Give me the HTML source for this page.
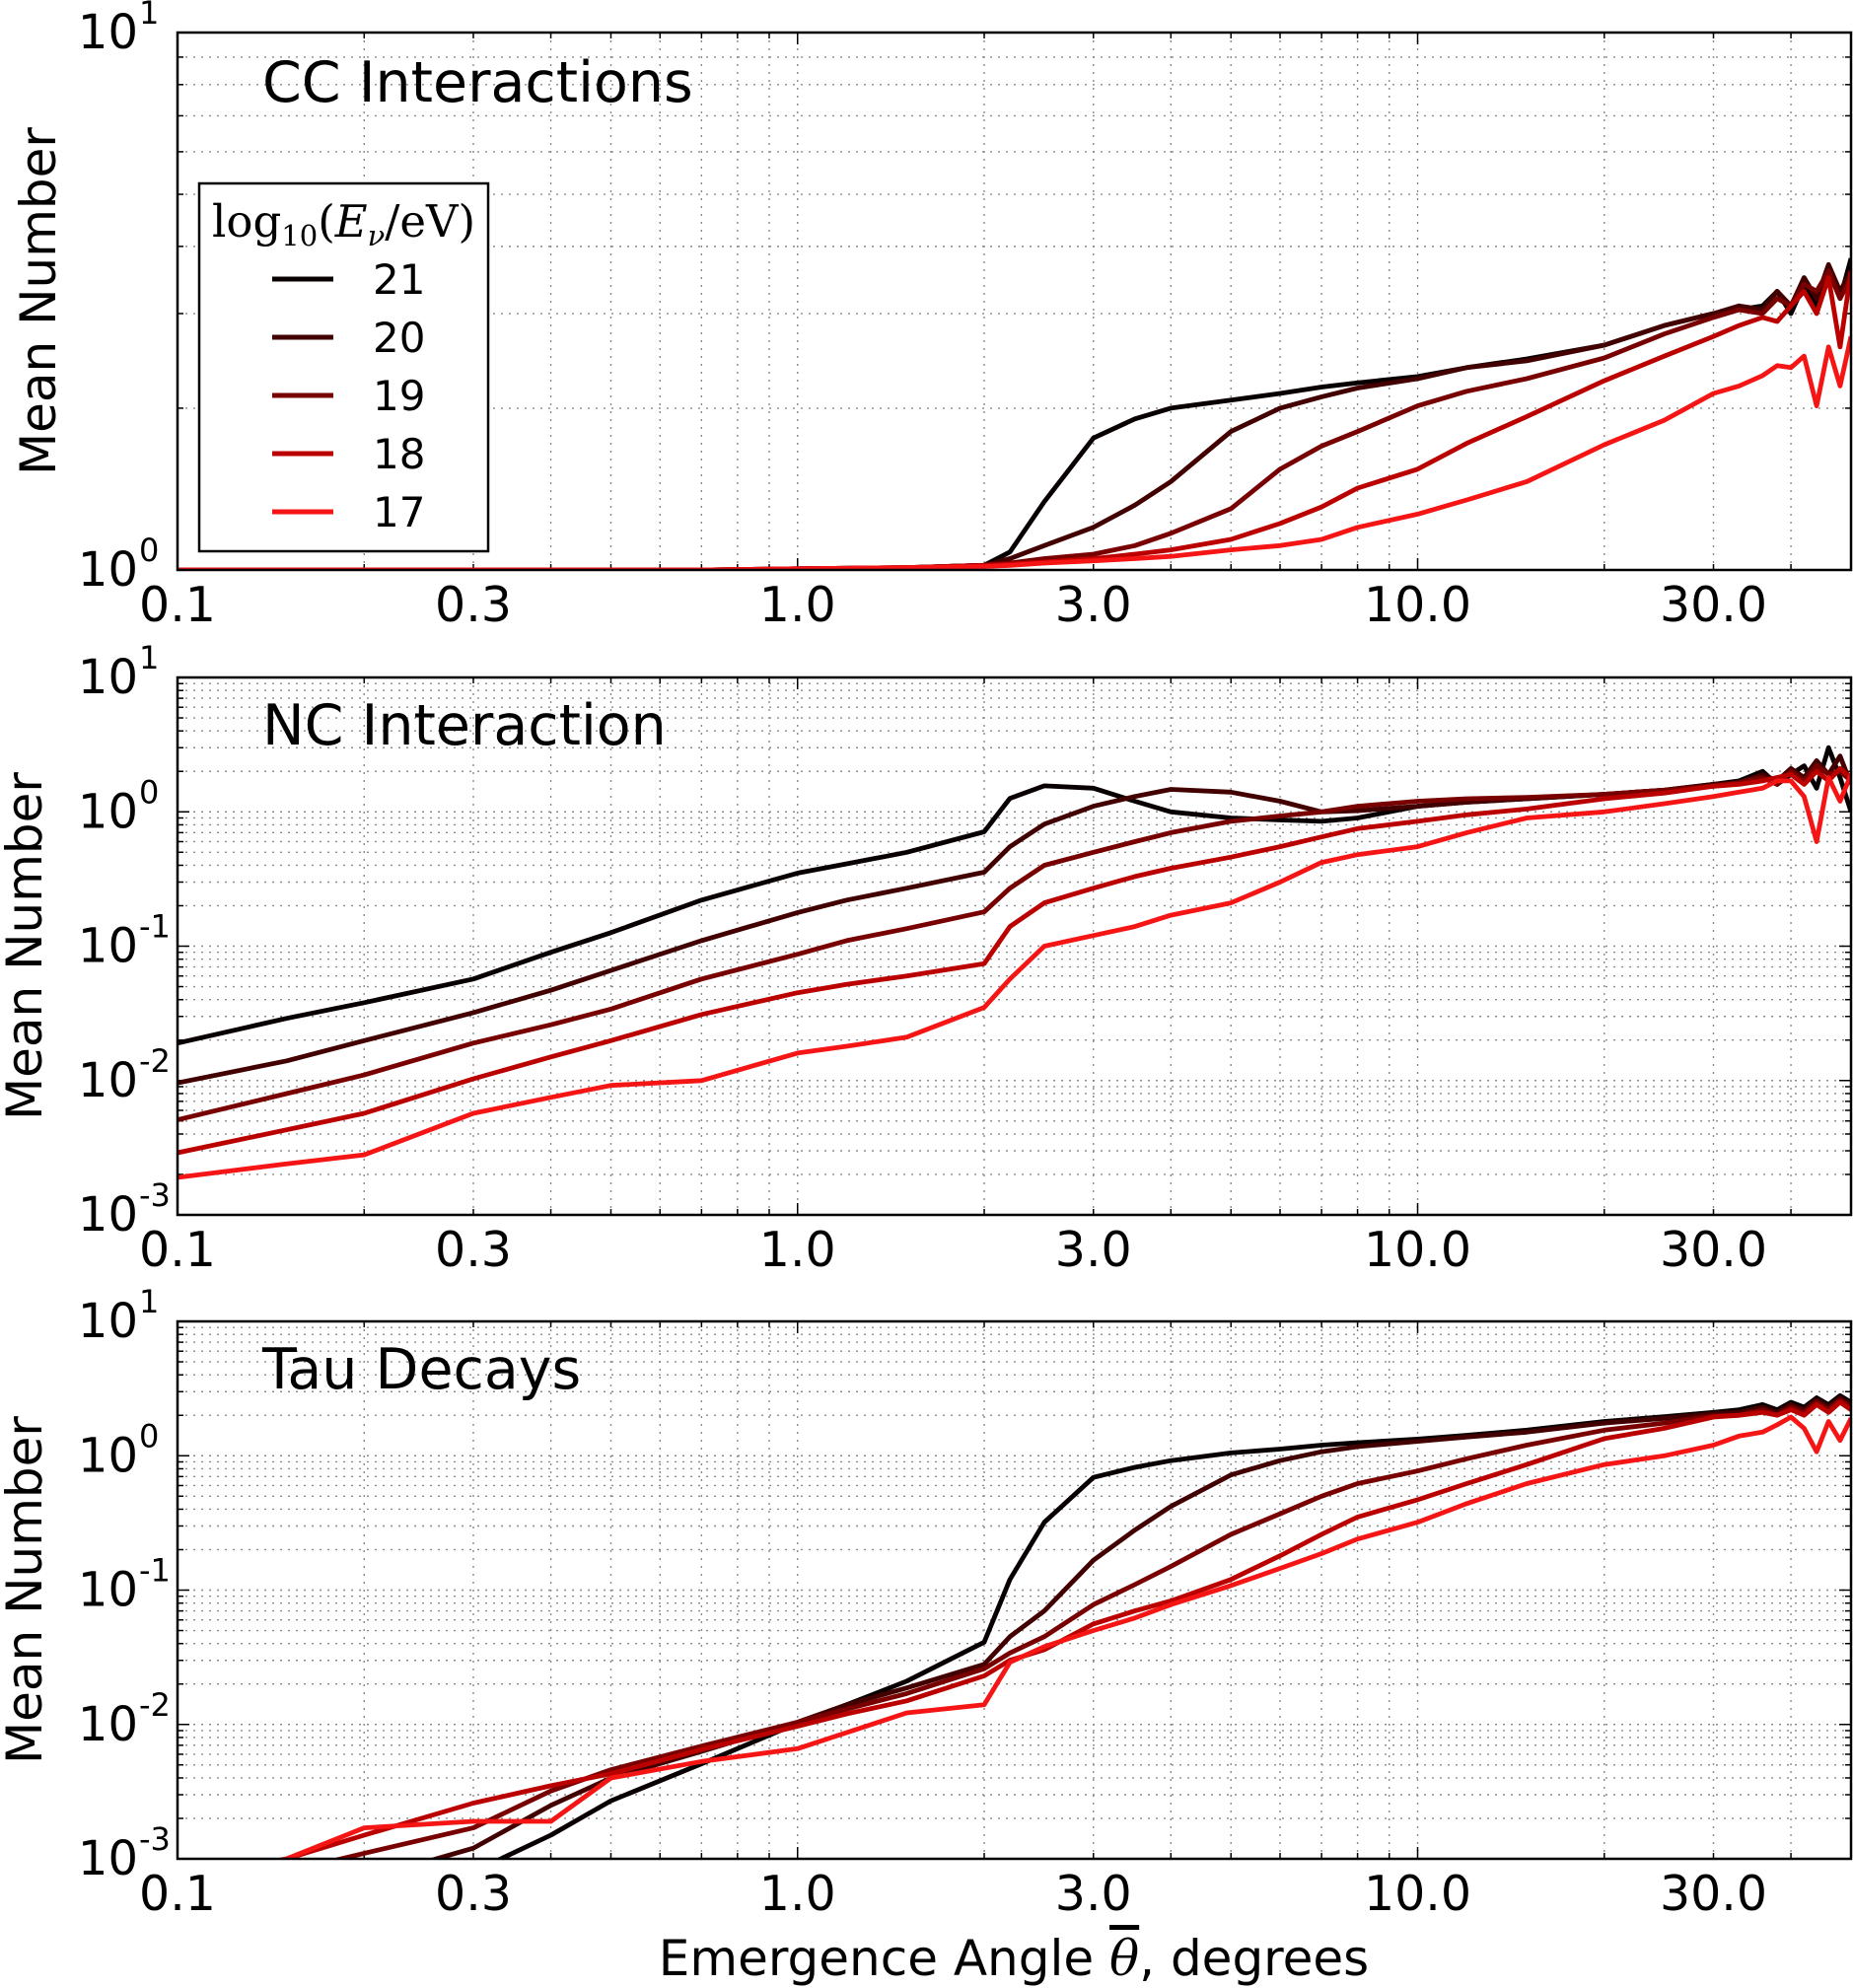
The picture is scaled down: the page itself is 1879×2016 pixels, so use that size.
<!DOCTYPE html>
<html><head><meta charset="utf-8"><style>
html,body{margin:0;padding:0;background:#fff;}
svg{display:block;font-family:"DejaVu Sans","Liberation Sans",sans-serif;}
</style></head><body>
<svg id="fig" width="1879" height="2016" viewBox="0 0 1879 2016" xmlns="http://www.w3.org/2000/svg"></svg>
<script>
// ---- data ----
const xGrid = [0.1,0.15,0.2,0.3,0.4,0.5,0.7,1,1.2,1.5,2,2.2,2.5,3,3.5,4,5,6,7,8,10,12,15,20,25,30,33,36,38,40,42,44,46,48,50];
const energies = ["21","20","19","18","17"];
const colors = ["#080000","#420000","#780000","#bb0000","#f51515"];
const xTickLabels = ["0.1","0.3","1.0","3.0","10.0","30.0"];
const xTickValues = [0.1,0.3,1,3,10,30];

const cc21 = [1,1,1,1,1,1,1,1.005,1.007,1.01,1.02,1.08,1.34,1.76,1.91,2.0,2.07,2.13,2.19,2.23,2.29,2.38,2.47,2.62,2.85,3.0,3.05,3.1,3.3,3.0,3.4,3.1,3.6,3.2,3.8];
const cc20 = [1,1,1,1,1,1,1,1.005,1.007,1.01,1.02,1.05,1.11,1.2,1.32,1.46,1.81,2.0,2.1,2.18,2.27,2.38,2.45,2.62,2.85,3.0,3.1,3.05,3.3,3.1,3.5,3.2,3.7,3.3,3.6];
const cc19 = [1,1,1,1,1,1,1,1.005,1.007,1.01,1.02,1.03,1.05,1.07,1.11,1.17,1.3,1.54,1.7,1.81,2.02,2.15,2.27,2.48,2.75,2.95,3.05,3.0,3.2,3.1,3.4,3.3,3.6,3.2,3.5];
const cc18 = [1,1,1,1,1,1,1,1.005,1.007,1.01,1.02,1.025,1.035,1.05,1.07,1.09,1.14,1.22,1.31,1.42,1.54,1.72,1.93,2.25,2.5,2.72,2.85,2.95,2.9,3.1,3.3,3.0,3.5,2.6,3.6];
const cc17 = [1,1,1,1,1,1,1,1.005,1.007,1.01,1.015,1.02,1.03,1.04,1.05,1.06,1.09,1.11,1.14,1.2,1.27,1.35,1.46,1.71,1.9,2.13,2.2,2.3,2.4,2.38,2.5,2.02,2.6,2.2,2.72];

const nc21 = [.019,.029,.038,.057,.09,.126,.22,.35,.41,.5,.71,1.26,1.56,1.5,1.2,1.0,.9,.87,.85,.9,1.1,1.18,1.25,1.35,1.45,1.6,1.7,2.0,1.6,1.9,2.2,1.5,3.0,1.8,1.0];
const nc20 = [.0096,.014,.0198,.032,.047,.066,.11,.178,.22,.27,.355,.55,.81,1.1,1.3,1.47,1.4,1.2,1.0,1.02,1.1,1.18,1.25,1.35,1.45,1.6,1.65,1.9,1.7,2.1,1.8,2.4,1.9,2.6,1.6];
const nc19 = [.0051,.008,.011,.019,.026,.034,.057,.087,.11,.135,.18,.27,.4,.5,.6,.7,.85,.93,1.0,1.1,1.2,1.25,1.28,1.35,1.45,1.55,1.65,1.8,1.6,2.0,1.7,2.2,1.9,2.0,1.7];
const nc18 = [.0029,.0043,.0057,.0103,.015,.0198,.031,.045,.052,.06,.074,.14,.21,.27,.33,.38,.46,.55,.65,.75,.85,.95,1.05,1.25,1.38,1.55,1.6,1.7,1.8,1.9,1.6,2.0,1.7,2.1,1.8];
const nc17 = [.0019,.0024,.0028,.0057,.0075,.0092,.01,.016,.018,.021,.035,.057,.1,.12,.14,.17,.21,.3,.42,.48,.55,.7,.9,1.0,1.15,1.3,1.4,1.5,1.7,1.7,1.3,.6,1.8,1.2,1.9];

const tau21 = [.0002,.0003,.0004,.0008,.0015,.0027,.0051,.0102,.014,.021,.041,.12,.32,.69,.82,.92,1.05,1.12,1.2,1.25,1.33,1.42,1.55,1.8,1.95,2.1,2.2,2.4,2.2,2.5,2.3,2.7,2.4,2.8,2.5];
const tau20 = [.0003,.0005,.0007,.0012,.0025,.004,.0063,.0104,.014,.0187,.028,.045,.07,.167,.28,.42,.72,.92,1.07,1.17,1.28,1.38,1.5,1.75,1.9,2.05,2.1,2.3,2.1,2.4,2.2,2.6,2.3,2.7,2.4];
const tau19 = [.0005,.0008,.0011,.0017,.0032,.0046,.0069,.0104,.013,.017,.026,.034,.045,.078,.11,.15,.26,.37,.5,.62,.77,.95,1.2,1.55,1.75,1.98,2.0,2.2,2.0,2.3,2.1,2.5,2.2,2.6,2.3];
const tau18 = [.0007,.001,.0015,.0026,.0035,.0043,.0065,.0097,.012,.015,.023,.03,.036,.056,.07,.083,.12,.18,.26,.35,.47,.62,.86,1.34,1.6,1.94,2.0,2.1,2.0,2.2,2.0,2.4,2.1,2.5,2.2];
const tau17 = [.0007,.001,.0017,.0019,.0019,.004,.0053,.0066,.0087,.0122,.014,.029,.038,.05,.062,.078,.108,.145,.187,.24,.32,.44,.62,.86,1.0,1.2,1.4,1.5,1.7,1.94,1.6,1.07,1.8,1.3,1.9];

const ccSeries = [cc21,cc20,cc19,cc18,cc17];
const ncSeries = [nc21,nc20,nc19,nc18,nc17];
const tauSeries = [tau21,tau20,tau19,tau18,tau17];

// ---- layout ----
const NS = "http://www.w3.org/2000/svg";
const svg = document.getElementById("fig");
const L = 180, R = 1877, H = 545;
const XMIN = 0.1, XMAX = 50;
function xs(v){ return L + (Math.log10(v) - Math.log10(XMIN)) / (Math.log10(XMAX) - Math.log10(XMIN)) * (R - L); }
function mk(tag, attrs, parent){ const e = document.createElementNS(NS, tag); for (const k in attrs) e.setAttribute(k, attrs[k]); (parent||svg).appendChild(e); return e; }

const panels = [
  {top:33, ymin:0, ymax:1, series:ccSeries, title:"CC Interactions", tb:103, name:"cc-panel", ylx:56},
  {top:687, ymin:-3, ymax:1, series:ncSeries, title:"NC Interaction", tb:755, name:"nc-panel", ylx:42},
  {top:1340, ymin:-3, ymax:1, series:tauSeries, title:"Tau Decays", tb:1408, name:"tau-panel", ylx:42}
];

panels.forEach((p, pi) => {
  const g = mk("g", {});
  
  
  const B = p.top + H;
  const ys = v => B - (Math.log10(v) - p.ymin) / (p.ymax - p.ymin) * H;
  const grid = mk("g", {stroke:"#8a8a8a", "stroke-width":"1.4", "stroke-dasharray":"2,6"}, g);
  
  
  for (let d = -1; d <= 1; d++) for (let m = 1; m <= 9; m++) {
    const v = m * Math.pow(10, d);
    if (v <= XMIN || v >= XMAX) continue;
    const x = xs(v);
    mk("line", {x1:x, x2:x, y1:p.top, y2:B}, grid);
    const len = (m === 1) ? 12 : 6;
    mk("line", {x1:x, x2:x, y1:B, y2:B-len, stroke:"#000", "stroke-width":"1.5"}, g);
    mk("line", {x1:x, x2:x, y1:p.top, y2:p.top+len, stroke:"#000", "stroke-width":"1.5"}, g);
  }
  for (let d = p.ymin; d < p.ymax; d++) for (let m = 1; m <= 9; m++) {
    const v = m * Math.pow(10, d);
    const y = ys(v);
    if (m > 1 || d > p.ymin) mk("line", {x1:L, x2:R, y1:y, y2:y}, grid);
    const len = (m === 1) ? 12 : 6;
    mk("line", {x1:L, x2:L+len, y1:y, y2:y, stroke:"#000", "stroke-width":"1.5"}, g);
    mk("line", {x1:R, x2:R-len, y1:y, y2:y, stroke:"#000", "stroke-width":"1.5"}, g);
  }
  const cp = mk("clipPath", {id:"clip"+pi}, g);
  mk("rect", {x:L, y:p.top, width:R-L, height:H}, cp);
  p.series.forEach((vals, si) => {
    let d = "";
    vals.forEach((v, i) => { d += (i ? "L" : "M") + xs(xGrid[i]).toFixed(1) + "," + ys(v).toFixed(1); });
    const path = mk("path", {d:d, fill:"none", stroke:colors[si], "stroke-width":"4.8", "stroke-linejoin":"round", "clip-path":"url(#clip"+pi+")"}, g);
    
    
  });
  const fr = mk("rect", {x:L, y:p.top, width:R-L, height:H, fill:"none", stroke:"#000", "stroke-width":"2.5"}, g);
  
  
  xTickValues.forEach((v, i) => {
    const t = mk("text", {x:xs(v), y:B+52, "font-size":"49", "text-anchor":"middle"}, g);
    t.textContent = xTickLabels[i];
    
    
  });
  for (let d = p.ymin; d <= p.ymax; d++) {
    const y = ys(Math.pow(10, d));
    const t = mk("text", {x:140, y:y+16, "font-size":"48", "text-anchor":"end"}, g);
    t.textContent = "10";
    
    
    const s = mk("text", {x:141, y:y-9, "font-size":"32", "text-anchor":"start"}, g);
    s.textContent = String(d);
    
    
  }
  const tt = mk("text", {x:266, y:p.tb, "font-size":"57"}, g);
  tt.textContent = p.title;
  
  
  const cy = p.top + H/2;
  const yt = mk("text", {x:0, y:0, "font-size":"50", "text-anchor":"middle", transform:"translate("+p.ylx+","+cy+") rotate(-90)"}, g);
  yt.textContent = "Mean Number";
  
  
});

// legend
const lg = mk("g", {});


mk("rect", {x:202, y:186, width:293, height:373, fill:"#fff", stroke:"#000", "stroke-width":"2.5"}, lg);
const lt = mk("text", {x:215, y:240, "font-size":"45", "font-family":"'DejaVu Serif','Liberation Serif',serif"}, lg);
lt.innerHTML = 'log<tspan font-size="29" dy="9">10</tspan><tspan dy="-9">(</tspan><tspan font-style="italic">E</tspan><tspan font-style="italic" font-size="29" dy="9">ν</tspan><tspan dy="-9">/eV)</tspan>';


energies.forEach((e, i) => {
  const y = 283 + i * 59;
  const ent = mk("g", {}, lg);
  
  
  mk("line", {x1:276, x2:338, y1:y, y2:y, stroke:colors[i], "stroke-width":"5"}, ent);
  const t = mk("text", {x:378, y:y+15, "font-size":"42"}, ent);
  t.textContent = e;
});

// x axis title
const xt = mk("text", {x:1028, y:2003, "font-size":"50", "text-anchor":"middle"});
xt.innerHTML = 'Emergence Angle <tspan font-style="italic" font-family="\'DejaVu Serif\',serif" text-decoration="overline">θ</tspan>, degrees';


</script>
</body></html>
